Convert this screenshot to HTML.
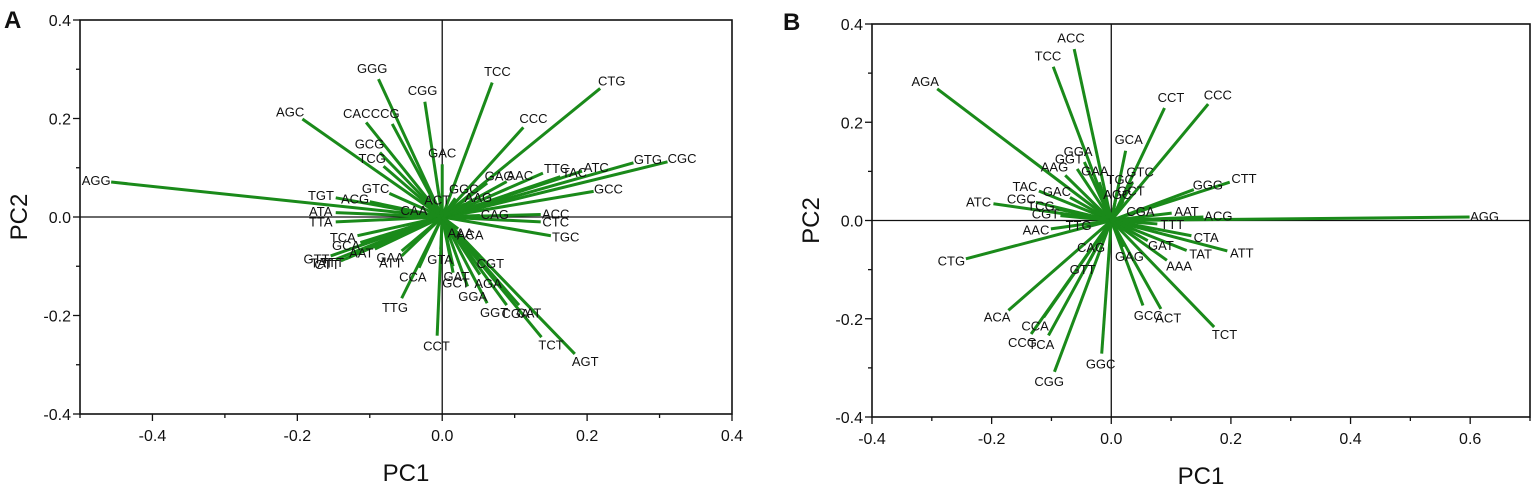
<!DOCTYPE html>
<html><head><meta charset="utf-8"><style>
body{margin:0;background:#fff;}
svg text{font-family:"Liberation Sans",sans-serif;}
</style></head><body>
<svg id="fig" width="1535" height="491" xmlns="http://www.w3.org/2000/svg"></svg>
<script>
// Panel A data
const codonsA = ["AGG","AGC","GGG","CGG","CAC","CCG","GCG","TCG","GTC","TGT","ACG","ATA","TTA","TCA","GCA","GTT","TAT","CTT","TTT","AAT","ATT","GAA","CCA","TTG","CCT","GTA","GAT","GCT","GGA","AGA","CGT","GGT","CGA","CAT","TCT","AGT","TGC","CTC","ACC","CAG","GCC","CGC","GTG","ATC","TAC","TTC","AAC","GAG","CTG","CCC","TCC","GAC","GGC","AAG","CAA","ACT","AAA","ACA"];
const pc1A = [-0.457,-0.193,-0.088,-0.024,-0.105,-0.069,-0.086,-0.081,-0.073,-0.147,-0.100,-0.147,-0.147,-0.117,-0.113,-0.154,-0.147,-0.140,-0.133,-0.093,-0.056,-0.056,-0.032,-0.056,-0.007,-0.002,0.015,0.015,0.035,0.052,0.052,0.062,0.089,0.106,0.137,0.183,0.150,0.136,0.136,0.052,0.209,0.311,0.264,0.193,0.163,0.139,0.089,0.062,0.218,0.112,0.069,0.000,0.018,0.032,-0.019,-0.002,0.011,0.022];
const pc2A = [0.071,0.199,0.280,0.234,0.192,0.189,0.131,0.103,0.048,0.039,0.031,0.009,-0.010,-0.038,-0.052,-0.079,-0.086,-0.089,-0.085,-0.065,-0.079,-0.069,-0.103,-0.165,-0.241,-0.065,-0.100,-0.113,-0.141,-0.117,-0.079,-0.175,-0.179,-0.179,-0.244,-0.278,-0.038,-0.010,0.005,0.003,0.052,0.112,0.110,0.093,0.082,0.089,0.072,0.069,0.261,0.182,0.273,0.107,0.038,0.027,0.007,0.012,-0.017,-0.024];
// Panel B data
const codonsB = ["AGA","TCC","ACC","CCT","CCC","GCA","GGA","GGT","AAG","GAA","GTC","TAC","CGC","ATC","GAC","TCG","CGT","AAC","TTG","CTG","GGG","CTT","AAT","ACG","AGG","TTT","CTA","GAT","ATT","TAT","AAA","GAG","CAG","GTT","ACA","CCA","CCG","TCA","CGG","GGC","GCC","ACT","TCT","TGC","GCT","AGC","CGA"];
const pc1B = [-0.291,-0.097,-0.062,0.089,0.162,0.024,-0.045,-0.057,-0.077,-0.020,0.036,-0.121,-0.126,-0.197,-0.069,-0.093,-0.085,-0.101,-0.030,-0.243,0.138,0.198,0.101,0.154,0.599,0.077,0.134,0.061,0.194,0.126,0.093,0.020,-0.020,-0.036,-0.172,-0.113,-0.134,-0.105,-0.095,-0.016,0.053,0.083,0.172,0.010,0.020,0.005,0.025];
const pc2B = [0.268,0.313,0.349,0.229,0.237,0.142,0.119,0.105,0.092,0.078,0.078,0.060,0.037,0.034,0.047,0.024,0.010,-0.017,-0.007,-0.078,0.063,0.078,0.015,0.007,0.007,-0.007,-0.031,-0.041,-0.062,-0.061,-0.081,-0.054,-0.037,-0.081,-0.183,-0.197,-0.231,-0.234,-0.308,-0.271,-0.173,-0.180,-0.217,0.060,0.040,0.030,0.010];
const xTicksA = [-0.4,-0.2,0.0,0.2,0.4];
const xTicksB = [-0.4,-0.2,0.0,0.2,0.4,0.6];
const yTicks = [-0.4,-0.2,0.0,0.2,0.4];

const NS="http://www.w3.org/2000/svg";
const svg=document.getElementById('fig');
function mk(tag,attrs,parent){const e=document.createElementNS(NS,tag);for(const k in attrs)e.setAttribute(k,attrs[k]);(parent||svg).appendChild(e);return e;}

function panel(cfg){
  const g=mk('g',{});
  
  
  const X=v=>cfg.x0+(v-cfg.xmin)/(cfg.xmax-cfg.xmin)*(cfg.x1-cfg.x0);
  const Y=v=>cfg.y1-(v+0.4)/0.8*(cfg.y1-cfg.y0);
  const fr=mk('rect',{x:cfg.x0,y:cfg.y0,width:cfg.x1-cfg.x0,height:cfg.y1-cfg.y0,fill:'none',stroke:'#111','stroke-width':1.6},g);
  
  
  const zx=mk('line',{x1:X(0),x2:X(0),y1:cfg.y0,y2:cfg.y1,stroke:'#111','stroke-width':1.3},g);
  
  
  const zy=mk('line',{x1:cfg.x0,x2:cfg.x1,y1:Y(0),y2:Y(0),stroke:'#111','stroke-width':1.3},g);
  
  
  for(let v=cfg.xmin;v<=cfg.xmax+1e-9;v+=0.1){
    const isMajor=cfg.xt.some(t=>Math.abs(t-v)<1e-6);
    mk('line',{x1:X(v),x2:X(v),y1:cfg.y1,y2:cfg.y1+(isMajor?7:4),stroke:'#111','stroke-width':1.3},g);
  }
  cfg.xt.forEach(t=>{
    const tx=mk('text',{x:X(t),y:cfg.y1+27,'text-anchor':'middle','font-size':16,fill:'#111'},g);
    tx.textContent=t.toFixed(1);
    
    
  });
  for(let v=-0.4;v<=0.4+1e-9;v+=0.1){
    const isMajor=yTicks.some(t=>Math.abs(t-v)<1e-6);
    mk('line',{x1:cfg.x0,x2:cfg.x0-(isMajor?7:4),y1:Y(v),y2:Y(v),stroke:'#111','stroke-width':1.3},g);
  }
  yTicks.forEach(t=>{
    const ty=mk('text',{x:cfg.x0-9,y:Y(t)+6,'text-anchor':'end','font-size':16,fill:'#111'},g);
    ty.textContent=t.toFixed(1);
    
    
  });
  cfg.labels.forEach((lab,i)=>{
    const px=X(cfg.p1[i]),py=Y(cfg.p2[i]);
    const ln=mk('line',{x1:X(0),y1:Y(0),x2:px,y2:py,stroke:'#1a8a1a','stroke-width':3},g);
    
    
  });
  cfg.labels.forEach((lab,i)=>{
    const px=X(cfg.p1[i]),py=Y(cfg.p2[i]);
    const dx=px-X(0),dy=py-Y(0);const L=Math.hypot(dx,dy)||1;
    const tx=mk('text',{x:px+dx/L*15,y:py+dy/L*11+4,'text-anchor':'middle','font-size':13,fill:'#111'},g);
    tx.textContent=lab;
    
    
  });
  const xt=mk('text',{x:(cfg.x0+cfg.x1)/2,y:cfg.y1+67,'text-anchor':'middle','font-size':24,fill:'#111'},g);
  xt.textContent='PC1';
  
  
  const yt=mk('text',{x:0,y:0,'text-anchor':'middle','font-size':24,fill:'#111',transform:`translate(${cfg.x0-53},${Y(0)}) rotate(-90)`},g);
  yt.textContent='PC2';
  
  
  const pl=mk('text',{x:cfg.lx,y:cfg.ly,'font-size':24,'font-weight':'bold',fill:'#111'},g);
  pl.textContent=cfg.letter;
  
  
}
panel({name:'panel-a',letter:'A',lx:4,ly:28,x0:80,x1:732,y0:20,y1:414,xmin:-0.5,xmax:0.4,xt:xTicksA,labels:codonsA,p1:pc1A,p2:pc2A});
panel({name:'panel-b',letter:'B',lx:783,ly:30,x0:872,x1:1530,y0:24,y1:417,xmin:-0.4,xmax:0.7,xt:xTicksB,labels:codonsB,p1:pc1B,p2:pc2B});
</script>
</body></html>
